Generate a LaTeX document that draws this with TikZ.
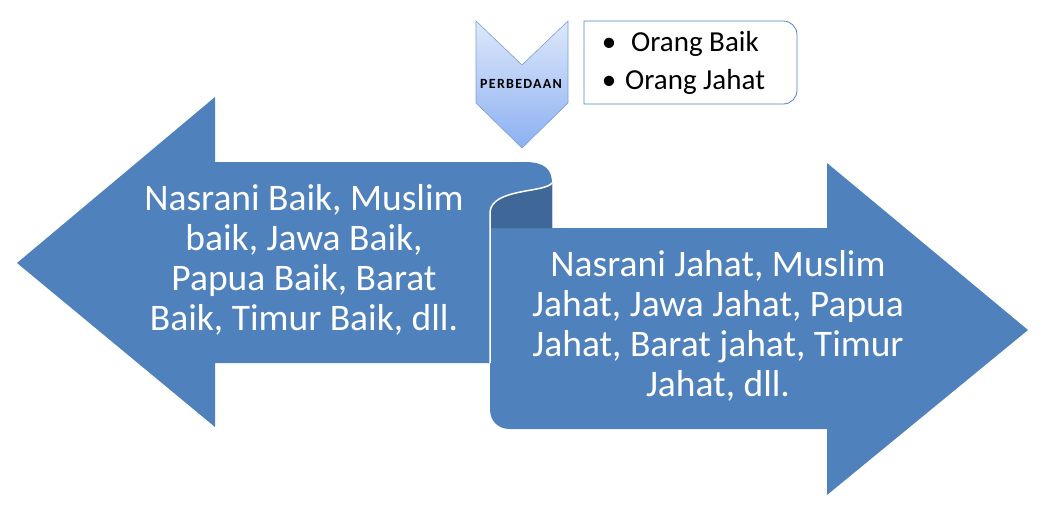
\documentclass[tikz,border=0pt]{standalone}
\usepackage{fontspec}
\setmainfont{Carlito}
\definecolor{ribbon}{HTML}{4F81BD}
\definecolor{ribbonback}{HTML}{3F6797}
\definecolor{chevtop}{HTML}{DDE8FA}
\definecolor{chevbot}{HTML}{8CB0F2}
\definecolor{chevline}{HTML}{7C9FD6}
\tikzset{
  maintext/.style={white, align=center, inner sep=0pt, font=\fontsize{37.5}{40}\selectfont},
  itemtext/.style={inner sep=0pt, anchor=base west, font=\fontsize{29}{32}\selectfont},
  itemdot/.style={inner sep=0pt, anchor=base, font=\fontsize{29}{32}\selectfont},
}
\begin{document}
\begin{tikzpicture}[x=1pt,y=-1pt]
	\useasboundingbox (0,0) rectangle (1046,512);
	% left arrow, its top end curls over
	\fill [ribbon] (17,263) -- (215,97) -- (215,162) -- (525,162) .. controls (545,162) and (552,170) .. (552,183) -- (552,363) -- (215,363) -- (215,427) -- cycle;
	% right arrow
	\fill [ribbon] (490,212) -- (490,409) .. controls (490,421) and (498,429) .. (510,429) -- (827,429) -- (827,495) -- (1028,330) -- (827,163) -- (827,228) -- (552,228) -- (552,183) .. controls (545,193) and (492,188) .. (490,212) -- cycle;
	\fill [ribbonback] (552,183) .. controls (545,193) and (492,188) .. (490,212) -- (490,228) -- (552,228) -- cycle;
	\draw [white, line width=1.5pt] (552,183) .. controls (545,193) and (492,188) .. (490,212) -- (490,363);
	% chevron
	\shade [top color=chevtop, bottom color=chevbot, draw=chevline, line width=.6pt]
		(476,21) -- (522,65) -- (568,21) -- (568,103) -- (522,148) -- (476,103) -- cycle;
	\node [inner sep=0pt, font=\fontsize{14}{14}\bfseries\addfontfeature{LetterSpace=9}] (beda) at (521,84) {PERBEDAAN};
	% box with the two items
	\draw [ribbon, line width=.8pt] (584,104) -- (584,21) -- (783,21) .. controls (791,21) and (797,27) .. (797,35)
		-- (797,90) .. controls (797,98) and (791,104) .. (783,104) -- cycle;
	\node [itemdot] (dot1) at (609,51) {•};
	\node [itemtext] (orangbaik) at (631,51) {Orang Baik};
	\node [itemdot] (dot2) at (609,89) {•};
	\node [itemtext] (orangjahat) at (625,89) {Orang Jahat};
	% texts on the arrows
	\node [maintext] (baik) at (304,260) {Nasrani Baik, Muslim\\baik, Jawa Baik,\\Papua Baik, Barat\\Baik, Timur Baik, dll.};
	\node [maintext] (jahat) at (718,326) {Nasrani Jahat, Muslim\\Jahat, Jawa Jahat, Papua\\Jahat, Barat jahat, Timur\\Jahat, dll.};
\end{tikzpicture}
\end{document}
